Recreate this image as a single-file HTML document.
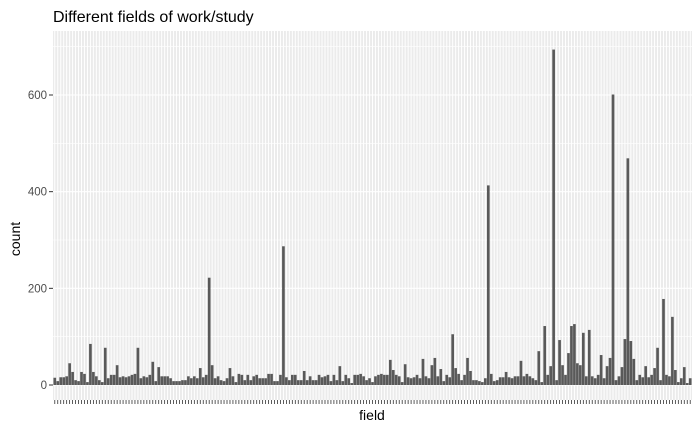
<!DOCTYPE html>
<html><head><meta charset="utf-8"><style>
body{margin:0;background:#fff;width:700px;height:432px;overflow:hidden}
svg{display:block;font-family:"Liberation Sans",sans-serif}
</style></head><body>
<svg id="chart" width="700" height="432">
<text x="53" y="22" font-size="16" fill="#000">Different fields of work/study</text>
<text x="372" y="420" font-size="14" text-anchor="middle" fill="#000">field</text>
<text x="20" y="239" font-size="14" text-anchor="middle" transform="rotate(-90 20 239)" fill="#000">count</text>
<g id="panel"></g>
</svg>
<script>
const yTicks=[0,200,400,600];
const yMinor=[100,300,500,700];
const counts=[15,8,16,16,18,45,27,10,8,27,23,6,85,27,18,10,6,77,14,21,21,41,16,18,16,18,21,23,77,14,18,16,21,48,8,37,18,18,18,14,8,8,8,10,10,18,14,18,14,35,16,21,222,41,14,18,10,8,14,35,18,6,23,21,10,21,10,18,21,
14,14,14,23,23,8,8,21,287,16,10,21,21,10,10,29,10,18,10,10,21,16,18,21,8,21,10,39,8,21,14,4,21,21,23,18,10,14,6,18,21,23,21,21,52,31,21,18,6,43,16,14,16,21,14,54,18,14,41,56,18,33,8,21,16,105,35,23,10,21,56,
29,10,10,8,6,14,413,23,8,10,16,16,27,16,14,18,18,50,18,23,18,14,10,70,6,122,21,39,694,10,93,41,21,66,122,126,45,41,108,18,114,18,14,21,62,14,39,56,601,10,18,37,95,469,91,54,10,21,16,39,16,21,35,77,10,178,21,18,141,31,6,14,37,4,14];
const categories=counts.map((_,i)=>'field-'+(i+1));
const NS='http://www.w3.org/2000/svg';
const g=document.getElementById('panel');
const L=53,R=692,T=31,B=400;
const n=categories.length;
const step=(R-L)/(n+0.2);
const xPos=i=>L+step*(0.6+i);
const yPos=v=>385-v*0.48333;
function mk(tag,a){const e=document.createElementNS(NS,tag);for(const k in a)e.setAttribute(k,a[k]);g.appendChild(e);return e;}
const bg=mk('rect',{x:L,y:T,width:R-L,height:B-T,fill:'#EBEBEB'});


yMinor.forEach(v=>{const l=mk('line',{x1:L,x2:R,y1:yPos(v),y2:yPos(v),stroke:'#fff','stroke-width':0.6});

});
categories.forEach((c,i)=>{const l=mk('line',{x1:xPos(i),x2:xPos(i),y1:T,y2:B,stroke:'#fff','stroke-width':1});

});
yTicks.forEach(v=>{const y=yPos(v);
const l=mk('line',{x1:L,x2:R,y1:y,y2:y,stroke:'#fff','stroke-width':1.1});


const t=mk('line',{x1:L-4,x2:L,y1:y,y2:y,stroke:'#333','stroke-width':1});


const tx=mk('text',{x:L-6,y:y+4,'font-size':11.5,'text-anchor':'end',fill:'#4d4d4d'});
tx.textContent=v;

});
counts.forEach((v,i)=>{const w=step*0.9;
const r=mk('rect',{x:xPos(i)-w/2,y:yPos(v),width:w,height:385-yPos(v),fill:'#595959'});


const t=mk('line',{x1:xPos(i),x2:xPos(i),y1:B,y2:B+4,stroke:'#333','stroke-width':0.8});

});
</script>
</body></html>
